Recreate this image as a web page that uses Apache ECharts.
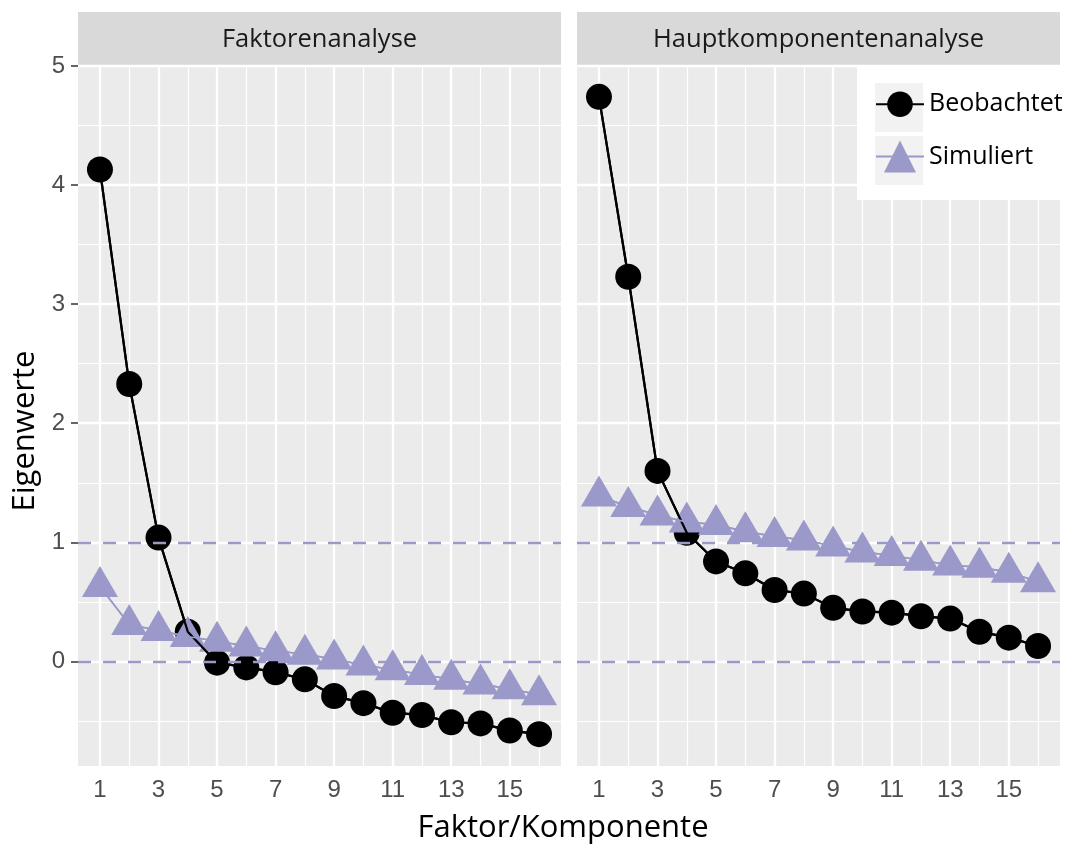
<!DOCTYPE html>
<html>
<head>
<meta charset="utf-8">
<script src="https://cdn.jsdelivr.net/npm/echarts@6/dist/echarts.min.js"></script>
<style>html,body{margin:0;padding:0;background:#fff}#c{width:1070px;height:845px}</style>
</head>
<body>
<div id="c"></div>
<script>
// ---- data ----
const panelTitles = ['Faktorenanalyse', 'Hauptkomponentenanalyse'];
const factors = [1, 2, 3, 4, 5, 6, 7, 8, 9, 10, 11, 12, 13, 14, 15, 16];
const faObserved = [4.13, 2.33, 1.04, 0.25, -0.01, -0.05, -0.09, -0.15, -0.29, -0.35, -0.43, -0.45, -0.51, -0.52, -0.58, -0.61];
const faSimulated = [0.63, 0.31, 0.26, 0.21, 0.17, 0.13, 0.09, 0.06, 0.02, -0.03, -0.07, -0.11, -0.15, -0.19, -0.23, -0.28];
const pcaObserved = [4.74, 3.23, 1.60, 1.08, 0.84, 0.74, 0.60, 0.57, 0.45, 0.42, 0.41, 0.38, 0.36, 0.25, 0.20, 0.13];
const pcaSimulated = [1.39, 1.30, 1.23, 1.17, 1.15, 1.09, 1.05, 1.02, 0.97, 0.92, 0.89, 0.85, 0.81, 0.79, 0.75, 0.67];
const xTicks = [1, 3, 5, 7, 9, 11, 13, 15];
const xMinor = [2, 4, 6, 8, 10, 12, 14, 16];
const yTicks = [0, 1, 2, 3, 4, 5];
const yMinor = [-0.5, 0.5, 1.5, 2.5, 3.5, 4.5];
const refLines = [0, 1];
const seriesNames = ['Beobachtet', 'Simuliert'];
const xTitle = 'Faktor/Komponente';
const yTitle = 'Eigenwerte';

// ---- styling ----
const LAV = '#9b98ca';
const PANEL_W = 483;
const GRID_TOP = 65, GRID_H = 701;
const panelLefts = [78, 577];
const X_MIN = 0.25, X_MAX = 16.75, Y_MIN = -0.8775, Y_MAX = 5.0075;
const UI_FONT = 'Open Sans';
const TICK_FONT = 'Liberation Sans';

const pair = (xs, ys) => xs.map((x, i) => [x, ys[i]]);

const grids = panelLefts.map(l => ({
  left: l, top: GRID_TOP, width: PANEL_W, height: GRID_H,
  show: true, backgroundColor: '#ebebeb', borderWidth: 0
}));

const xAxes = [0, 1].map(i => ({
  type: 'value', gridIndex: i, min: X_MIN, max: X_MAX,
  axisLine: { show: false },
  axisTick: { show: true, customValues: xTicks, length: 7, lineStyle: { color: '#333', width: 1.5 } },
  axisLabel: { show: true, customValues: xTicks, fontSize: 24, color: '#4d4d4d', fontFamily: TICK_FONT, margin: 12 },
  splitLine: { show: false }
}));

const yAxes = [0, 1].map(i => ({
  type: 'value', gridIndex: i, min: Y_MIN, max: Y_MAX,
  axisLine: { show: false },
  axisTick: { show: i === 0, customValues: yTicks, length: 7, lineStyle: { color: '#333', width: 1.5 } },
  axisLabel: { show: i === 0, customValues: yTicks, fontSize: 24, color: '#4d4d4d', fontFamily: TICK_FONT, margin: 13 },
  splitLine: { show: false }
}));

function gridSeries(i) {
  const data = []
    .concat(yMinor.map(v => ({ yAxis: v, lineStyle: { width: 1.2 } })))
    .concat(xMinor.map(v => ({ xAxis: v, lineStyle: { width: 1.2 } })))
    .concat(yTicks.map(v => ({ yAxis: v, lineStyle: { width: 2.3 } })))
    .concat(xTicks.map(v => ({ xAxis: v, lineStyle: { width: 2.3 } })));
  return {
    type: 'line', xAxisIndex: i, yAxisIndex: i, data: [], z: 1, silent: true,
    markLine: {
      z: 1, silent: true, symbol: 'none', animation: false,
      label: { show: false },
      emphasis: { disabled: true },
      lineStyle: { color: '#ffffff', type: 'solid' },
      data: data
    }
  };
}

function refSeries(i) {
  return {
    type: 'line', xAxisIndex: i, yAxisIndex: i, data: [], z: 6, silent: true,
    markLine: {
      z: 6, silent: true, symbol: 'none', animation: false,
      label: { show: false },
      emphasis: { disabled: true },
      lineStyle: { color: LAV, type: [13, 12], width: 2.4 },
      data: refLines.map(v => ({ yAxis: v }))
    }
  };
}

const obs = [faObserved, pcaObserved];
const sim = [faSimulated, pcaSimulated];

const series = [];
[0, 1].forEach(i => {
  series.push(gridSeries(i));
  series.push({
    name: seriesNames[0], type: 'line', xAxisIndex: i, yAxisIndex: i, z: 3,
    data: pair(factors, obs[i]), symbol: 'circle', symbolSize: 26, showSymbol: true,
    itemStyle: { color: '#000' }, lineStyle: { color: '#000', width: 2.2 }
  });
  series.push({
    name: seriesNames[1], type: 'line', xAxisIndex: i, yAxisIndex: i, z: 4,
    data: pair(factors, sim[i]), symbol: 'triangle', symbolSize: [36, 31], symbolOffset: [0, -5],
    itemStyle: { color: LAV }, lineStyle: { color: LAV, width: 1.6 }
  });
  series.push({
    name: seriesNames[0], type: 'line', xAxisIndex: i, yAxisIndex: i, z: 5,
    data: pair(factors, obs[i]), showSymbol: false, symbol: 'none',
    itemStyle: { color: '#000' }, lineStyle: { color: '#000', width: 2.2 }
  });
  series.push({
    name: seriesNames[1], type: 'line', xAxisIndex: i, yAxisIndex: i, z: 5,
    data: pair(factors, sim[i]), showSymbol: false, symbol: 'none',
    itemStyle: { color: LAV }, lineStyle: { color: LAV, width: 1.6 }
  });
  series.push(refSeries(i));
});

const graphics = [];
panelLefts.forEach((l, i) => {
  graphics.push({ type: 'rect', shape: { x: l, y: 12, width: PANEL_W, height: 53 }, style: { fill: '#d9d9d9' }, z: 0 });
  graphics.push({ type: 'text', x: l + PANEL_W / 2, y: 40, z: 1,
    style: { text: panelTitles[i], fill: '#1a1a1a', font: '25.5px "' + UI_FONT + '"', textAlign: 'center', textVerticalAlign: 'middle' } });
});
// legend box and key backgrounds
graphics.push({ type: 'rect', shape: { x: 857, y: 67, width: 203, height: 133 }, style: { fill: '#ffffff' }, z: 2 });
graphics.push({ type: 'rect', shape: { x: 875, y: 83, width: 48, height: 49 }, style: { fill: '#f2f2f2' }, z: 2 });
graphics.push({ type: 'rect', shape: { x: 875, y: 136, width: 48, height: 49 }, style: { fill: '#f2f2f2' }, z: 2 });
// axis titles
graphics.push({ type: 'text', x: 563, y: 828, z: 1,
  style: { text: xTitle, fill: '#000', font: '31px "' + UI_FONT + '"', textAlign: 'center', textVerticalAlign: 'middle' } });
graphics.push({ type: 'text', x: 25, y: 431, rotation: Math.PI / 2, z: 1,
  style: { text: yTitle, fill: '#000', font: '31px "' + UI_FONT + '"', textAlign: 'center', textVerticalAlign: 'middle' } });

const chart = echarts.init(document.getElementById('c'), null, { renderer: 'canvas' });
chart.setOption({
  backgroundColor: '#ffffff',
  animation: false,
  grid: grids,
  xAxis: xAxes,
  yAxis: yAxes,
  legend: [
    { data: [seriesNames[0]], left: 875, top: 91.5, padding: 0, itemWidth: 48, itemHeight: 32, z: 4,
      textStyle: { fontSize: 25, color: '#000', fontFamily: UI_FONT }, selectedMode: false },
    { data: [seriesNames[1]], left: 875, top: 140.5, padding: 0, itemWidth: 48, itemHeight: 40, z: 4,
      textStyle: { fontSize: 25, color: '#000', fontFamily: UI_FONT }, selectedMode: false }
  ],
  graphic: graphics,
  series: series
});
</script>
</body>
</html>
